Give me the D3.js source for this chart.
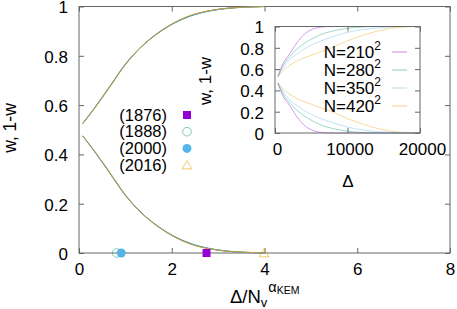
<!DOCTYPE html>
<html><head><meta charset="utf-8">
<script src="https://cdn.jsdelivr.net/npm/d3@7"></script>
<style>
body{margin:0;background:#fff;}
svg{display:block;font-family:"Liberation Sans",Arial,Helvetica,sans-serif;}
.tick text{font-size:17px;fill:#000;}
</style></head>
<body><svg id="c" width="457" height="309"></svg>
<script>
// ---- data ----
const seriesNames = ["N=210","N=280","N=350","N=420"];
const seriesColors = ["#9400d3","#009e73","#56b4e9","#e69f00"];
const mainX = [0.08, 0.35, 0.65, 1.0, 1.35, 1.7, 2.05, 2.4, 2.8, 3.2, 3.6, 4.0];
const mainW210 = [0.525, 0.592, 0.672, 0.766, 0.838, 0.892, 0.933, 0.962, 0.982, 0.993, 0.998, 1.0];
const mainW280 = [0.526, 0.591, 0.670, 0.764, 0.837, 0.891, 0.932, 0.961, 0.981, 0.992, 0.997, 1.0];
const mainW350 = [0.525, 0.593, 0.673, 0.767, 0.839, 0.893, 0.934, 0.963, 0.982, 0.993, 0.998, 1.0];
const mainW420 = [0.524, 0.590, 0.671, 0.765, 0.838, 0.892, 0.934, 0.964, 0.983, 0.993, 0.997, 1.0];
const insetDelta = [400, 1000, 2000, 3000, 4000, 5000, 6000, 7000, 8000, 10000, 12000, 14000, 16000, 18000, 20000];
const insetW210 = [0.53, 0.64, 0.74, 0.845, 0.925, 0.97, 0.99, 0.998, 1, 1, 1, 1, 1, 1, 1];
const insetW280 = [0.53, 0.62, 0.715, 0.785, 0.84, 0.88, 0.915, 0.94, 0.958, 0.983, 0.995, 1, 1, 1, 1];
const insetW350 = [0.53, 0.6, 0.688, 0.74, 0.787, 0.826, 0.856, 0.882, 0.905, 0.945, 0.97, 0.986, 0.995, 1, 1];
const insetW420 = [0.53, 0.58, 0.635, 0.675, 0.705, 0.73, 0.755, 0.78, 0.805, 0.865, 0.915, 0.955, 0.983, 0.996, 1];
const eventLabels = ["(1876)","(1888)","(2000)","(2016)"];
const eventX = [2.75, 0.81, 0.91, 3.99];
const eventColors = ["#9400d3","#009e73","#56b4e9","#e69f00"];
const mainXTicks = [0,2,4,6,8];
const mainYTicks = [0,0.2,0.4,0.6,0.8,1];
const insetXTicks = [0,10000,20000];
const insetYTicks = [0,0.2,0.4,0.6,0.8,1];

const svg = d3.select("#c");
const frameColor = "#666";

// ---- main plot ----
const x = d3.scaleLinear().domain([0,8]).range([79,450]);
const y = d3.scaleLinear().domain([0,1]).range([253,6.5]);

function frame(g, xs, ys){
  g.append("rect").attr("x",xs.range()[0]).attr("y",ys.range()[1])
   .attr("width",xs.range()[1]-xs.range()[0]).attr("height",ys.range()[0]-ys.range()[1])
   .attr("fill","none").attr("stroke",frameColor).attr("stroke-width",1);
}
function axes(g, xs, ys, xt, yt, xfmt, yfmt, xdx){
  const ax = g.append("g").attr("transform",`translate(0,${ys.range()[0]})`)
    .call(d3.axisBottom(xs).tickValues(xt).tickFormat(xfmt).tickSizeInner(-5).tickSizeOuter(0).tickPadding(10));
  const ay = g.append("g").attr("transform",`translate(${xs.range()[0]},0)`)
    .call(d3.axisLeft(ys).tickValues(yt).tickFormat(yfmt).tickSizeInner(-5).tickSizeOuter(0).tickPadding(11));
  const at = g.append("g").attr("transform",`translate(0,${ys.range()[1]})`)
    .call(d3.axisTop(xs).tickValues(xt).tickFormat("").tickSizeInner(-5).tickSizeOuter(0));
  const ar = g.append("g").attr("transform",`translate(${xs.range()[1]},0)`)
    .call(d3.axisRight(ys).tickValues(yt).tickFormat("").tickSizeInner(-5).tickSizeOuter(0));
  [ax,ay,at,ar].forEach(a=>{a.select(".domain").remove();a.selectAll(".tick line").attr("stroke",frameColor);});
  ax.selectAll(".tick text").attr("font-size",17).attr("dx",xdx);
  ay.selectAll(".tick text").attr("font-size",17).attr("dy","0.38em");
}
const gm = svg.append("g");
axes(gm, x, y, mainXTicks, mainYTicks, d3.format("d"), d=>String(d), 0);
frame(gm, x, y);

const mainSeries = [mainW210, mainW280, mainW350, mainW420];
const lineM = d3.line().x(d=>x(d[0])).y(d=>y(d[1])).curve(d3.curveMonotoneX);
mainSeries.forEach((w,i)=>{
  const up = mainX.map((v,j)=>[v,w[j]]);
  const dn = mainX.map((v,j)=>[v,1-w[j]]);
  [up,dn].forEach(dd=>gm.append("path").attr("d",lineM(dd)).attr("fill","none")
     .attr("stroke",seriesColors[i]).attr("stroke-width",0.9).attr("stroke-opacity",0.85));
});

function marker(g, type, cx, cy, color){
  if(type===0) g.append("rect").attr("x",cx-4).attr("y",cy-4).attr("width",8).attr("height",8).attr("fill",color);
  else if(type===1) g.append("circle").attr("cx",cx).attr("cy",cy).attr("r",4.3).attr("fill","none").attr("stroke",color).attr("stroke-opacity",0.5).attr("stroke-width",1);
  else if(type===2) g.append("circle").attr("cx",cx).attr("cy",cy).attr("r",4.5).attr("fill",color);
  else g.append("path").attr("d",`M${cx},${cy-4.5}L${cx+4.8},${cy+3.8}L${cx-4.8},${cy+3.8}Z`).attr("fill","none").attr("stroke",color).attr("stroke-opacity",0.55).attr("stroke-width",1);
}
eventX.forEach((v,i)=>marker(gm, i, x(v), y(0), eventColors[i]));
const legY0 = 115, legDY = 16.7;
eventLabels.forEach((t,i)=>{
  gm.append("text").attr("x",167).attr("y",legY0+i*legDY).attr("dy","0.35em")
    .attr("text-anchor","end").attr("font-size",16.5).text(t);
  marker(gm, i, 187, legY0+i*legDY, eventColors[i]);
});
svg.append("text").attr("transform","translate(16,128) rotate(-90)").attr("text-anchor","middle")
  .attr("font-size",17.5).text("w, 1-w");
const xl = svg.append("text").attr("x",230).attr("y",303).attr("font-size",18.5);
xl.append("tspan").text("Δ/N");
xl.append("tspan").attr("font-size",13).attr("dy",4).text("v");
xl.append("tspan").attr("font-size",14.5).attr("dy",-15).attr("dx",1).text("α");
xl.append("tspan").attr("font-size",10.5).attr("dy",2).text("KEM");

// ---- inset ----
const xi = d3.scaleLinear().domain([0,20000]).range([275,420]);
const yi = d3.scaleLinear().domain([0,1]).range([133,26.5]);
const gi = svg.append("g");
gi.append("rect").attr("x",275).attr("y",26.5).attr("width",145).attr("height",106.5).attr("fill","#fff");
axes(gi, xi, yi, insetXTicks, insetYTicks, d3.format("d"), d=>String(d), 2);
const insetSeries = [insetW210, insetW280, insetW350, insetW420];
const lineI = d3.line().x(d=>xi(d[0])).y(d=>yi(d[1])).curve(d3.curveMonotoneX);
insetSeries.forEach((w,i)=>{
  const up = insetDelta.map((v,j)=>[v,w[j]]);
  const dn = insetDelta.map((v,j)=>[v,1-w[j]]);
  [up,dn].forEach(dd=>gi.append("path").attr("d",lineI(dd)).attr("fill","none")
     .attr("stroke",seriesColors[i]).attr("stroke-width",1).attr("stroke-opacity",0.38));
});
frame(gi, xi, yi);
const ilY0 = 52, ilDY = 18;
seriesNames.forEach((t,i)=>{
  const tx = gi.append("text").attr("x",381).attr("y",ilY0+i*ilDY).attr("dy","0.35em")
    .attr("text-anchor","end").attr("font-size",17);
  tx.append("tspan").text(t);
  tx.append("tspan").attr("font-size",12).attr("dy",-8).text("2");
  gi.append("line").attr("x1",392).attr("x2",407).attr("y1",ilY0+i*ilDY).attr("y2",ilY0+i*ilDY)
    .attr("stroke",seriesColors[i]).attr("stroke-opacity",0.4).attr("stroke-width",1.2);
});
svg.append("text").attr("transform","translate(211,81) rotate(-90)").attr("text-anchor","middle")
  .attr("font-size",17).text("w, 1-w");
svg.append("text").attr("x",348).attr("y",187).attr("text-anchor","middle").attr("font-size",17).text("Δ");
</script></body></html>
